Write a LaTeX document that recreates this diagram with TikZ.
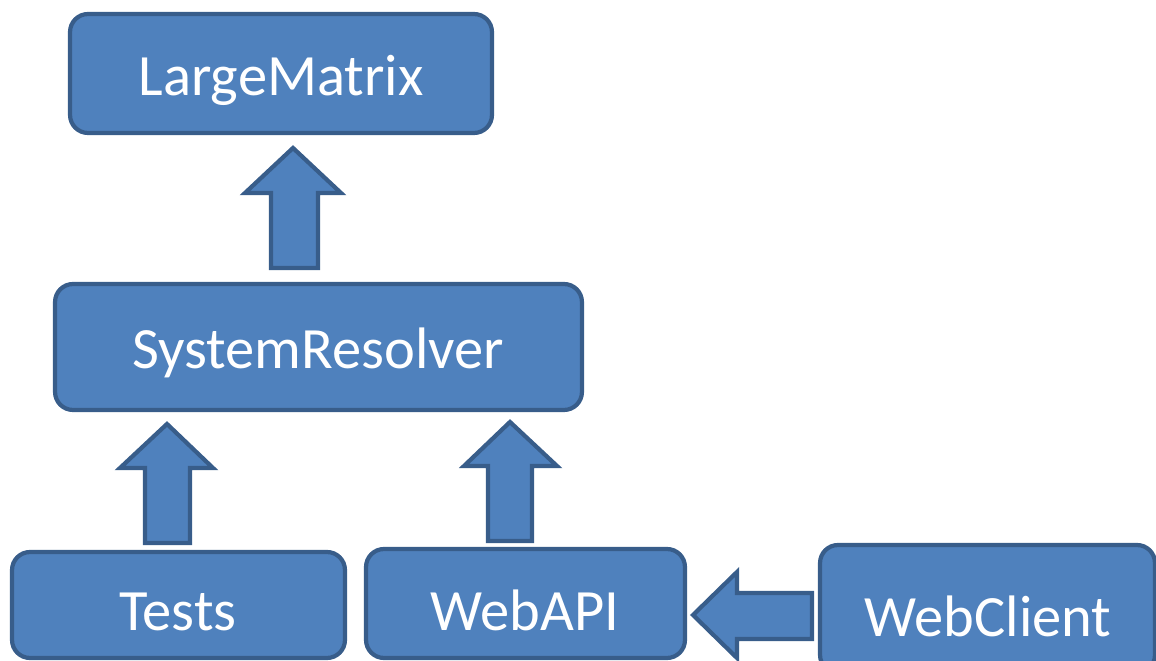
\documentclass[tikz,border=0pt]{standalone}
\usepackage{fontspec}
\setmainfont{Carlito}
\definecolor{boxfill}{HTML}{4F81BD}
\definecolor{boxline}{HTML}{385D8A}
\begin{document}
\begin{tikzpicture}[x=0.02cm,y=-0.02cm,
  box/.style={draw=boxline,fill=boxfill,line width=2.4pt,rounded corners=0.36cm,inner sep=0pt},
  label/.style={text=white,font=\fontsize{33.3}{40}\selectfont,inner sep=0pt},
  blockarrow/.style={draw=boxline,fill=boxfill,line width=2.4pt,line join=miter}]
\useasboundingbox (0,0) rectangle (1156,661);
\clip (0,0) rectangle (1156,661);
% boxes
\node[box,minimum width=8.44cm,minimum height=2.38cm] (lm) at (281,73.5) {};
\node[label] (lmt) at (281,80) {LargeMatrix};
\node[box,minimum width=10.54cm,minimum height=2.52cm] (sr) at (318.5,347) {};
\node[label] (srt) at (318,353) {SystemResolver};
\node[box,minimum width=6.66cm,minimum height=2.12cm] (te) at (178.5,605) {};
\node[label] (tet) at (178,612) {Tests};
\node[box,minimum width=6.38cm,minimum height=2.18cm] (wa) at (525.5,603.5) {};
\node[label] (wat) at (525,610) {WebAPI};
\node[box,minimum width=6.70cm,minimum height=2.56cm] (wc) at (987.5,609) {};
\node[label] (wct) at (988,616) {WebClient};
% block arrows
\draw[blockarrow] (271,268) -- (271,193) -- (245,193) -- (293,148) -- (341,193) -- (318,193) -- (318,268) -- cycle;
\draw[blockarrow] (145,543) -- (145,468) -- (120,468) -- (167,424) -- (213,468) -- (190,468) -- (190,543) -- cycle;
\draw[blockarrow] (488,541) -- (488,466) -- (464,466) -- (510,422) -- (557,466) -- (532,466) -- (532,541) -- cycle;
\draw[blockarrow] (812,593) -- (737,593) -- (737,572) -- (693,615) -- (737,658) -- (737,639) -- (812,639) -- cycle;
\end{tikzpicture}
\end{document}
